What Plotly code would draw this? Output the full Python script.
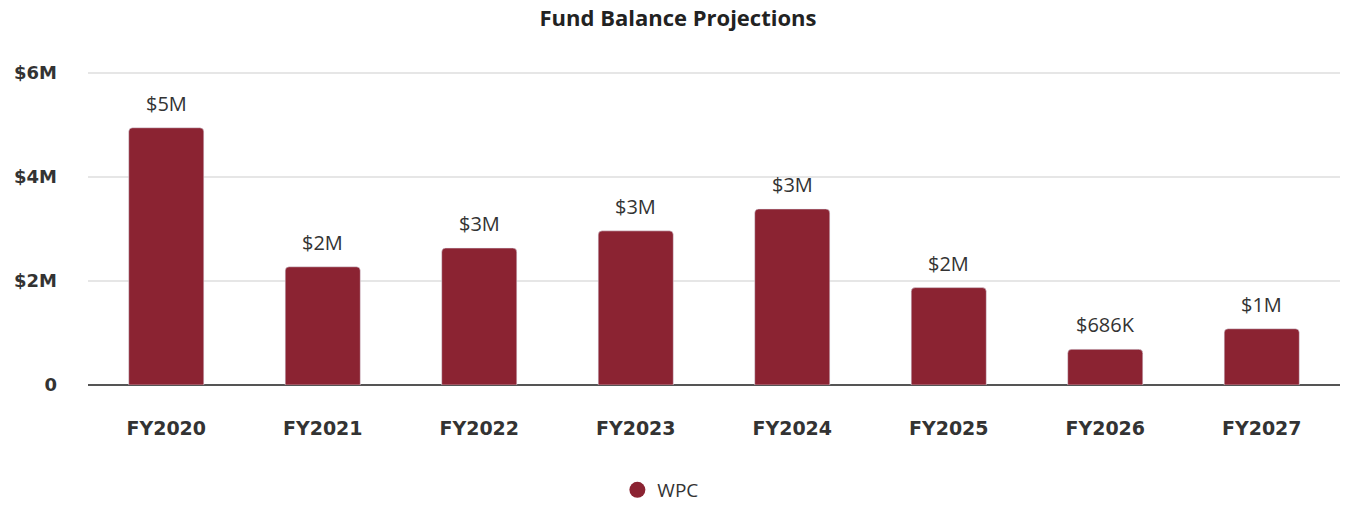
import plotly.graph_objects as go

# Fund balance by fiscal year (USD)
years = ["FY2020", "FY2021", "FY2022", "FY2023", "FY2024", "FY2025", "FY2026", "FY2027"]
wpc_balance = [4940000, 2270000, 2630000, 2960000, 3380000, 1870000, 686000, 1080000]

y_tick_vals = [0, 2000000, 4000000, 6000000]
y_tick_text = ["0", "$2M", "$4M", "$6M"]

BAR_COLOR = "#8b2332"
TEXT_COLOR = "#333333"
TICK_FONT = "DejaVu Sans"


def short_money(v):
    if v >= 1_000_000:
        return f"${round(v / 1_000_000)}M"
    return f"${round(v / 1_000)}K"


labels = [short_money(v) for v in wpc_balance]

fig = go.Figure()
fig.add_trace(go.Bar(
    x=years,
    y=wpc_balance,
    marker=dict(color=BAR_COLOR, cornerradius=4),
    showlegend=False,
    hoverinfo="x+y",
))
# legend entry drawn with a round swatch
fig.add_trace(go.Scatter(
    x=[None], y=[None], mode="markers", name="WPC",
    marker=dict(color=BAR_COLOR, size=20, symbol="circle"),
))

# value labels sitting above each bar
for yr, val, lab in zip(years, wpc_balance, labels):
    fig.add_annotation(
        x=yr, y=val, text=lab, showarrow=False,
        xanchor="center", yanchor="bottom", yshift=9,
        font=dict(family="Open Sans", size=20, color=TEXT_COLOR),
    )

fig.update_layout(
    width=1356,
    height=506,
    margin=dict(l=88, r=16, t=71, b=121, autoexpand=False),
    paper_bgcolor="white",
    plot_bgcolor="white",
    bargap=0.52,
    title=dict(
        text="Fund Balance Projections",
        x=0.5, xanchor="center",
        y=1 - 18 / 506, yanchor="middle",
        font=dict(family="Open Sans", size=22, color="#222222", weight="bold"),
    ),
    legend=dict(
        orientation="h",
        xref="container", x=0.487, xanchor="center",
        yref="container", y=1 - 490 / 506, yanchor="middle",
        font=dict(family="Open Sans", size=19, color=TEXT_COLOR),
    ),
    xaxis=dict(
        showgrid=False,
        showline=False,
        ticks="",
        ticklabelstandoff=30,
        tickfont=dict(family=TICK_FONT, size=19, color=TEXT_COLOR, weight="bold"),
    ),
    yaxis=dict(
        range=[0, 6030000],
        tickvals=y_tick_vals,
        ticktext=y_tick_text,
        showgrid=True,
        gridcolor="#e6e6e6",
        gridwidth=2,
        zeroline=True,
        zerolinecolor="#555555",
        zerolinewidth=2,
        ticks="",
        ticklabelstandoff=30,
        tickfont=dict(family=TICK_FONT, size=18, color=TEXT_COLOR, weight="bold"),
    ),
)

fig.write_html("out.html")
